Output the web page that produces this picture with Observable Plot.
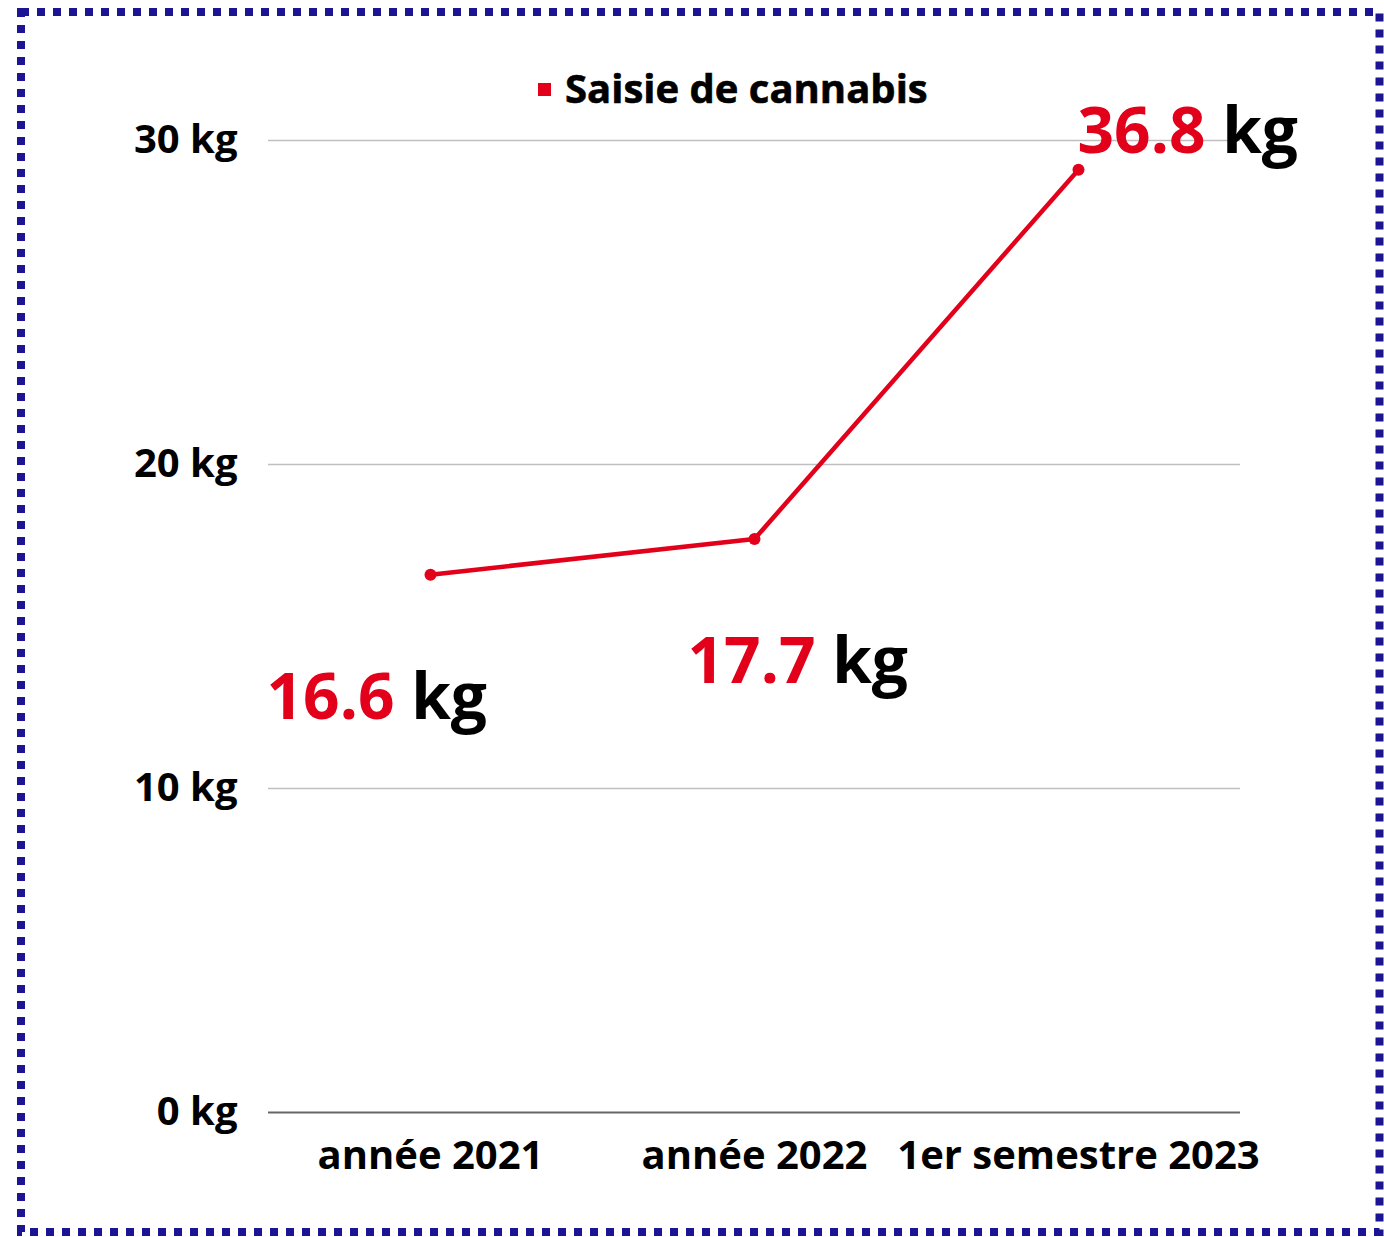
<!DOCTYPE html>
<html>
<head>
<meta charset="utf-8">
<script src="https://cdn.jsdelivr.net/npm/d3@7"></script>
<script src="https://cdn.jsdelivr.net/npm/@observablehq/plot@0.6"></script>
<style>
  html, body { margin: 0; padding: 0; background: #fff; }
  #wrap { position: relative; width: 1384px; height: 1237px; font-family: "Open Sans", sans-serif; }
  #wrap > svg { position: absolute; left: 0; top: 0; }
</style>
</head>
<body>
<div id="wrap"></div>
<script>
// ---- data ----
const categories = ["année 2021", "année 2022", "1er semestre 2023"];
const plottedValues = [16.6, 17.7, 29.1];      // position of each point as drawn
const labelValues = ["16.6", "17.7", "36.8"];  // values printed next to the points
const yTicks = [0, 10, 20, 30];
const seriesName = "Saisie de cannabis";
const unit = "kg";

// ---- layout / style (not data) ----
const RED = "#e2001a";
const WEIGHT = 700;
const labelOffsets = [[-164, 144], [-67, 143.5], [-1, -17]];

const data = categories.map((c, i) => ({cat: c, value: plottedValues[i], label: labelValues[i]}));

const marks = [
  Plot.gridY(yTicks.filter(t => t !== 0), {stroke: "#bfbfbf", strokeOpacity: 1, strokeWidth: 1.5}),
  Plot.ruleY([0], {stroke: "#666", strokeWidth: 2}),
  Plot.axisY({ticks: yTicks, tickFormat: d => `${d} ${unit}`, tickSize: 0, tickPadding: 31,
              fontSize: 40, fontWeight: WEIGHT, fill: "#000", stroke: "#000", strokeWidth: 0.6, label: null}),
  Plot.axisX({tickSize: 0, tickPadding: 28, fontSize: 40, fontWeight: WEIGHT, fill: "#000", stroke: "#000", strokeWidth: 0.6, label: null}),
  Plot.line(data, {x: "cat", y: "value", stroke: RED, strokeWidth: 4.5}),
  Plot.dot(data, {x: "cat", y: "value", r: 6, fill: RED, stroke: "none"})
];
data.forEach((d, i) => {
  marks.push(Plot.text([d], {
    x: "cat", y: "value", text: dd => `${dd.label} ${unit}`,
    dx: labelOffsets[i][0], dy: labelOffsets[i][1],
    textAnchor: "start", lineAnchor: "bottom",
    fontSize: 64, fontWeight: WEIGHT, fill: "#000"
  }));
});

const chart = Plot.plot({
  width: 1384,
  height: 1237,
  marginLeft: 268,
  marginRight: 144,
  marginTop: 140,
  marginBottom: 125,
  style: {fontFamily: "'Open Sans', sans-serif", background: "transparent", color: "#000", overflow: "visible"},
  x: {type: "point", domain: categories, padding: 0.5},
  y: {domain: [0, 30]},
  marks
});

// two-tone value labels: red number, black unit
d3.select(chart).selectAll('g[aria-label="text"] text').each(function() {
  const t = d3.select(this);
  const parts = t.text().split(" ");
  t.text(null);
  t.append("tspan").attr("fill", RED).text(parts[0]);
  t.append("tspan").attr("fill", "#000").text(" " + parts.slice(1).join(" "));
});

const wrap = document.getElementById("wrap");
wrap.appendChild(chart);

// legend + dotted frame overlay
const over = d3.select(wrap).append("svg")
  .attr("width", 1384).attr("height", 1237)
  .style("pointer-events", "none");
over.append("rect")
  .attr("x", 21).attr("y", 12).attr("width", 1358.5).attr("height", 1220)
  .attr("fill", "none").attr("stroke", "#1b1593").attr("stroke-width", 8)
  .attr("stroke-dasharray", "8 8");
const leg = over.append("g");
leg.append("rect").attr("x", 538).attr("y", 83).attr("width", 13).attr("height", 13).attr("fill", RED);
leg.append("text").attr("x", 565).attr("y", 103)
  .attr("font-family", "'Open Sans', sans-serif").attr("font-weight", WEIGHT).attr("font-size", 40)
  .attr("fill", "#000").attr("stroke", "#000").attr("stroke-width", 0.6).text(seriesName);
</script>
</body>
</html>
